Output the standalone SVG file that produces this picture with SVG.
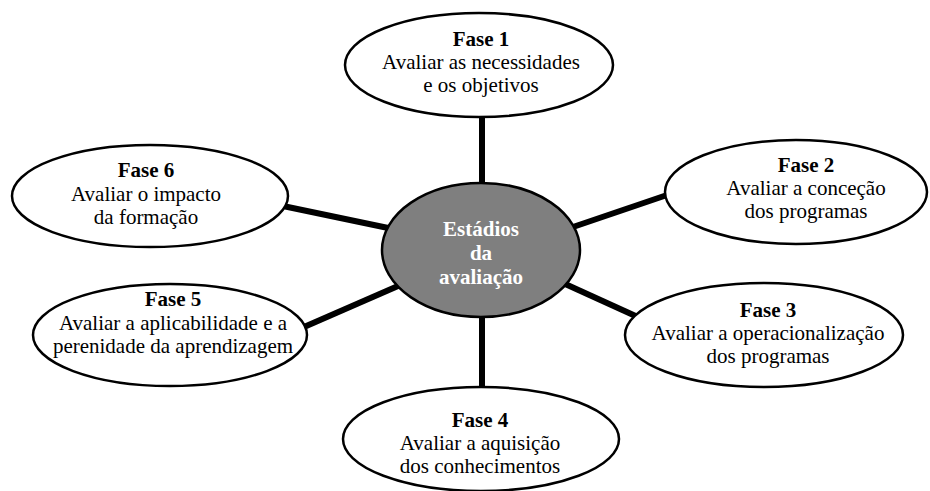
<svg xmlns="http://www.w3.org/2000/svg" width="930" height="491" viewBox="0 0 930 491">
<style>
.bg{fill:#ffffff}
.node ellipse{fill:#ffffff;stroke:#000000;stroke-width:2.5}
.center ellipse{fill:#7f7f7f;stroke:#000000;stroke-width:2.5}
text{font-family:"Liberation Serif","Times New Roman",serif;font-size:21px;text-anchor:middle;fill:#000000}
.t{font-weight:bold}
.ct{font-weight:bold;fill:#ffffff}
.conn line{stroke:#000000;stroke-width:6;stroke-linecap:butt}
</style>
<rect class="bg" x="0" y="0" width="930" height="491"/>
<g id="connectors" class="conn">
<line x1="482" y1="112" x2="482" y2="188"/>
<line x1="570" y1="228" x2="670" y2="194"/>
<line x1="563" y1="283" x2="640" y2="318"/>
<line x1="482" y1="312" x2="482" y2="392"/>
<line x1="398" y1="286" x2="304" y2="327"/>
<line x1="283" y1="206" x2="393" y2="229"/>
</g>
<g id="center" class="center">
<ellipse cx="481" cy="250" rx="99" ry="67"/>
<text class="ct" x="481" y="236">Estádios</text>
<text class="ct" x="481" y="260">da</text>
<text class="ct" x="481" y="284">avaliação</text>
</g>
<g id="fase1" class="node">
<ellipse cx="479" cy="65" rx="134" ry="52"/>
<text class="t" x="481" y="46">Fase 1</text>
<text x="481" y="69">Avaliar as necessidades</text>
<text x="481" y="92">e os objetivos</text>
</g>
<g id="fase2" class="node">
<ellipse cx="796" cy="192" rx="131" ry="52"/>
<text class="t" x="806" y="172">Fase 2</text>
<text x="806" y="195">Avaliar a conceção</text>
<text x="806" y="218">dos programas</text>
</g>
<g id="fase3" class="node">
<ellipse cx="764" cy="335" rx="139" ry="52"/>
<text class="t" x="768" y="317">Fase 3</text>
<text x="768" y="340">Avaliar a operacionalização</text>
<text x="768" y="363">dos programas</text>
</g>
<g id="fase4" class="node">
<ellipse cx="481" cy="439" rx="138" ry="52"/>
<text class="t" x="480" y="427">Fase 4</text>
<text x="480" y="450">Avaliar a aquisição</text>
<text x="480" y="473">dos conhecimentos</text>
</g>
<g id="fase5" class="node">
<ellipse cx="170" cy="335" rx="137" ry="51"/>
<text class="t" x="173" y="306">Fase 5</text>
<text x="173" y="330">Avaliar a aplicabilidade e a</text>
<text x="173" y="353">perenidade da aprendizagem</text>
</g>
<g id="fase6" class="node">
<ellipse cx="150" cy="196" rx="138" ry="51"/>
<text class="t" x="146" y="177">Fase 6</text>
<text x="146" y="201">Avaliar o impacto</text>
<text x="146" y="224">da formação</text>
</g>
</svg>
